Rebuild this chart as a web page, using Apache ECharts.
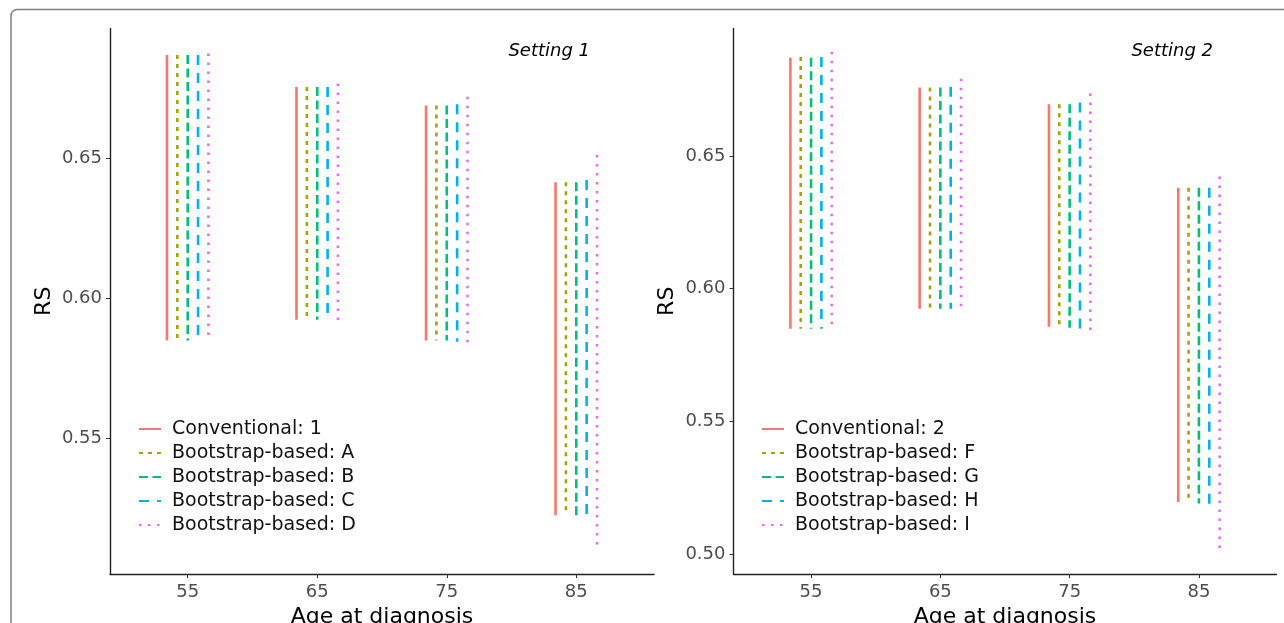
<!DOCTYPE html>
<html>
<head>
<meta charset="utf-8">
<script src="https://cdn.jsdelivr.net/npm/echarts@6/dist/echarts.min.js"></script>
<style>
  html, body { margin: 0; padding: 0; background: #fff; }
  #chart { width: 1284px; height: 623px; }
</style>
</head>
<body>
<div id="chart"></div>
<script>
// categories on the x axis
const ages = ['55', '65', '75', '85'];

// setting 1: one row per method, one value per age group
const names1 = ['Conventional: 1', 'Bootstrap-based: A', 'Bootstrap-based: B', 'Bootstrap-based: C', 'Bootstrap-based: D'];
const low1 = [
    [0.585, 0.5924, 0.585, 0.5225],
    [0.585, 0.5924, 0.585, 0.5225],
    [0.585, 0.5924, 0.585, 0.5225],
    [0.585, 0.5924, 0.5845, 0.5211],
    [0.585, 0.5915, 0.5823, 0.5104]
];
const high1 = [
    [0.687, 0.6756, 0.669, 0.6415],
    [0.687, 0.6756, 0.669, 0.6415],
    [0.687, 0.6756, 0.669, 0.6415],
    [0.687, 0.6756, 0.6694, 0.6423],
    [0.6876, 0.6768, 0.6721, 0.6513]
];

// setting 2
const names2 = ['Conventional: 2', 'Bootstrap-based: F', 'Bootstrap-based: G', 'Bootstrap-based: H', 'Bootstrap-based: I'];
const low2 = [
    [0.5849, 0.5924, 0.5856, 0.5196],
    [0.5849, 0.5924, 0.5853, 0.5196],
    [0.5849, 0.5924, 0.5853, 0.5191],
    [0.5849, 0.5924, 0.5849, 0.5173],
    [0.5858, 0.5931, 0.5837, 0.5012]
];
const high2 = [
    [0.687, 0.6758, 0.6695, 0.638],
    [0.6873, 0.6758, 0.6695, 0.638],
    [0.687, 0.6758, 0.6695, 0.638],
    [0.6873, 0.6761, 0.6701, 0.638],
    [0.6892, 0.6791, 0.6735, 0.6422]
];

const ticks1 = [0.55, 0.60, 0.65];
const ticks2 = [0.50, 0.55, 0.60, 0.65];

const colors = ['#F8766D', '#A3A500', '#00BF7D', '#00B0F6', '#E76BF3'];
const dashes = ['solid', [4, 5], [9, 4.5], [10, 8], [2.5, 6.5]];
const DODGE = 0.08;
const FONT = 'DejaVu Sans';

// each interval is drawn top -> bottom, broken by a null point
function makeSeries(names, low, high, axis) {
    return names.map((name, k) => {
        const data = [];
        ages.forEach((a, i) => {
            const x = i + 1 + (k - 2) * DODGE;
            data.push([x, high[k][i]], [x, low[k][i]], [x, null]);
        });
        return {
            name: name,
            type: 'line',
            xAxisIndex: axis,
            yAxisIndex: axis,
            data: data,
            symbol: 'none',
            connectNulls: false,
            silent: true,
            lineStyle: { color: colors[k], width: 2.6, type: dashes[k], cap: 'butt' },
            itemStyle: { color: colors[k] }
        };
    });
}

function xAxis(idx) {
    return {
        type: 'value',
        gridIndex: idx,
        min: 0.4,
        max: 4.6,
        name: 'Age at diagnosis',
        nameLocation: 'middle',
        nameGap: 31,
        nameTextStyle: { fontSize: 22, color: '#000', fontFamily: FONT },
        axisLine: { lineStyle: { color: '#222', width: 1.4 } },
        axisTick: { customValues: [1, 2, 3, 4], length: 4, lineStyle: { color: '#333' } },
        axisLabel: {
            customValues: [1, 2, 3, 4],
            formatter: v => ages[Math.round(v) - 1],
            margin: 9, fontSize: 18, color: '#4d4d4d', fontFamily: FONT
        },
        splitLine: { show: false }
    };
}

function yAxis(idx, min, max, ticks) {
    return {
        type: 'value',
        gridIndex: idx,
        min: min,
        max: max,
        name: 'RS',
        nameLocation: 'middle',
        nameRotate: 90,
        nameGap: 55,
        nameTextStyle: { fontSize: 22, color: '#000', fontFamily: FONT },
        axisLine: { show: true, lineStyle: { color: '#222', width: 1.4 } },
        axisTick: { show: true, customValues: ticks, length: 4, lineStyle: { color: '#333' } },
        axisLabel: {
            customValues: ticks,
            formatter: v => v.toFixed(2),
            margin: 8, fontSize: 18, color: '#4d4d4d', fontFamily: FONT
        },
        splitLine: { show: false }
    };
}

function legend(names, left) {
    return {
        data: names,
        orient: 'vertical',
        left: left,
        top: 412,
        itemWidth: 22,
        itemHeight: 14,
        itemGap: 0,
        selectedMode: false,
        itemStyle: { opacity: 0 },
        textStyle: { fontSize: 19, lineHeight: 24, color: '#111', fontFamily: FONT, padding: [0, 0, 0, 6] }
    };
}

const chart = echarts.init(document.getElementById('chart'));
chart.setOption({
    backgroundColor: '#fff',
    animation: false,
    graphic: [{
        type: 'rect',
        shape: { x: 11, y: 9.5, width: 1400, height: 700, r: 6 },
        style: { fill: 'none', stroke: '#808080', lineWidth: 1.5 },
        silent: true
    }],
    title: [
        { text: 'Setting 1', right: 689, top: 37, textStyle: { fontSize: 18, fontStyle: 'italic', fontWeight: 'normal', color: '#000', fontFamily: FONT } },
        { text: 'Setting 2', right: 66, top: 37, textStyle: { fontSize: 18, fontStyle: 'italic', fontWeight: 'normal', color: '#000', fontFamily: FONT } }
    ],
    grid: [
        { left: 110, top: 28.5, width: 544, height: 545.5, outerBoundsMode: 'none' },
        { left: 733.5, top: 28.5, width: 543, height: 545.5, outerBoundsMode: 'none' }
    ],
    legend: [legend(names1, 133), legend(names2, 756)],
    xAxis: [xAxis(0), xAxis(1)],
    yAxis: [yAxis(0, 0.5015, 0.6965, ticks1), yAxis(1, 0.4925, 0.698, ticks2)],
    series: makeSeries(names1, low1, high1, 0).concat(makeSeries(names2, low2, high2, 1))
});
</script>
</body>
</html>
